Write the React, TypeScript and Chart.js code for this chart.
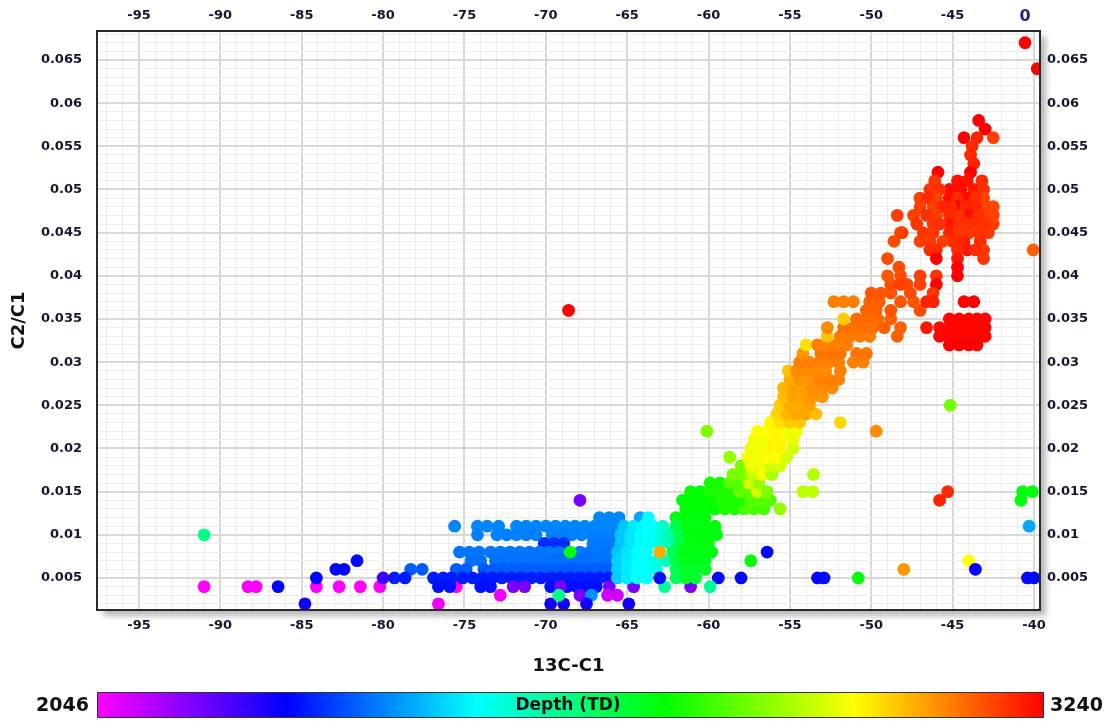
import React, { useEffect, useRef } from 'react';
import { Chart, registerables } from 'chart.js';

Chart.register(...registerables);

// ---------- axis ranges / ticks ----------
const X_MIN = -97.58;
const X_MAX = -39.63;
const Y_MIN = 0.00129;
const Y_MAX = 0.06836;
const xMajorTicks = [-95, -90, -85, -80, -75, -70, -65, -60, -55, -50, -45, -40];
const yMajorTicks = [0.005, 0.01, 0.015, 0.02, 0.025, 0.03, 0.035, 0.04, 0.045, 0.05, 0.055, 0.06, 0.065];
const DEPTH_MIN = 2046;
const DEPTH_MAX = 3240;
const xTitle = '13C-C1';
const yTitle = 'C2/C1';
const colorTitle = 'Depth (TD)';

// ---------- data: [C2/C1, depth, 13C-C1 values] ----------
type Seg = [number, number, number[]];

const leftOutliers: Seg[] = [
  [0.010, 2640, [-91.0]],
  [0.004, 2046, [-91.0, -88.3, -87.8, -84.1, -82.7, -81.4, -80.2, -75.5]],
  [0.004, 2285, [-86.45]],
  [0.005, 2285, [-84.1]],
  [0.006, 2290, [-82.9, -82.4]],
  [0.007, 2290, [-81.6]],
  [0.003, 2060, [-72.8]],
  [0.002, 2060, [-76.6]],
];

const blueCluster: Seg[] = [
  [0.012, 2410, [-66.7, -66.1, -65.5]],
  [0.011, 2410, [-75.6, -74.2, -73.6, -72.9, -71.8, -71.2, -70.6, -70.0, -69.4, -68.8, -68.2, -67.6, -67.0, -66.4, -65.8]],
  [0.010, 2405, [-74.2, -73.0, -72.4, -71.8, -71.2, -70.6, -69.6, -69.0, -68.4, -67.8, -67.2, -66.6, -66.0]],
  [0.009, 2325, [-70.1, -69.5, -68.9]],
  [0.009, 2400, [-67.1, -66.5, -65.9]],
  [0.008, 2395, [-75.3, -74.7, -74.1, -73.4, -72.8, -72.2, -71.6, -71.0, -70.4, -69.8, -69.2, -67.9, -67.3, -66.7, -66.1]],
  [0.007, 2390, [-74.6, -74.0, -73.1, -72.5, -71.9, -71.3, -70.7, -70.1, -69.5, -68.9, -68.3, -67.7, -67.1, -66.5, -65.9]],
  [0.006, 2370, [-78.3, -77.6, -75.5, -74.9, -73.8, -73.2, -72.6, -72.0, -71.4, -70.8, -70.2, -69.6, -69.0, -68.4, -67.8, -67.2, -66.6, -66.0]],
  [0.005, 2310, [-79.3, -78.65, -76.9, -76.3, -75.8, -75.1, -74.5, -73.9, -73.3, -72.7, -72.1, -71.5, -70.9, -70.3, -69.7, -69.1, -68.5, -67.9, -67.3, -66.7, -66.1]],
  [0.005, 2230, [-80.0]],
  [0.004, 2300, [-76.6, -75.9, -74.0, -73.4, -69.7, -68.7, -68.1, -67.5, -66.9]],
  [0.004, 2170, [-72.0, -71.3, -69.1, -66.1, -64.6, -61.1]],
  [0.003, 2170, [-67.9]],
  [0.003, 2420, [-67.2]],
  [0.003, 2090, [-66.2, -65.6]],
  [0.002, 2270, [-84.8, -69.7, -68.9, -67.5, -64.9]],
];

const cyanCluster: Seg[] = [
  [0.012, 2440, [-64.2]], [0.012, 2530, [-63.7]],
  [0.011, 2470, [-65.2]], [0.011, 2505, [-64.6]], [0.011, 2525, [-64.0, -63.4]], [0.011, 2570, [-62.8]],
  [0.010, 2470, [-65.4]], [0.010, 2500, [-64.8]], [0.010, 2525, [-64.2, -63.6]], [0.010, 2555, [-63.0]], [0.010, 2600, [-62.4]],
  [0.009, 2470, [-65.4]], [0.009, 2500, [-64.8]], [0.009, 2525, [-64.2, -63.6]], [0.009, 2555, [-63.0]], [0.009, 2600, [-62.4]],
  [0.008, 2470, [-65.6]], [0.008, 2500, [-65.0]], [0.008, 2525, [-64.4, -63.8]],
  [0.007, 2480, [-65.6]], [0.007, 2505, [-65.0]], [0.007, 2525, [-64.4, -63.8]], [0.007, 2550, [-63.2]], [0.007, 2590, [-62.6]],
  [0.006, 2480, [-65.6]], [0.006, 2505, [-65.0]], [0.006, 2525, [-64.4, -63.8]], [0.006, 2550, [-63.2]],
  [0.005, 2480, [-65.6]], [0.005, 2505, [-65.0]], [0.005, 2525, [-64.4, -63.8]],
];

const greenCluster: Seg[] = [
  [0.012, 2750, [-62.0, -61.4, -60.8, -60.2]],
  [0.011, 2690, [-62.0]], [0.011, 2750, [-61.4, -60.8, -60.2, -59.6]],
  [0.010, 2690, [-61.8]], [0.010, 2750, [-61.2, -60.6, -60.0, -59.5]],
  [0.009, 2700, [-61.8]], [0.009, 2750, [-61.2, -60.6, -60.0]],
  [0.008, 2680, [-62.2]], [0.008, 2745, [-61.6, -61.0, -60.4, -59.8]],
  [0.007, 2700, [-62.0]], [0.007, 2740, [-61.4, -60.8, -60.2]],
  [0.006, 2690, [-62.0]], [0.006, 2730, [-61.4, -60.8, -60.2]],
  [0.005, 2680, [-62.0]], [0.005, 2720, [-61.4, -60.8]],
];

const risingBand: Seg[] = [
  [0.013, 2760, [-61.4, -60.8, -60.2, -59.6]], [0.013, 2790, [-59.0, -58.4]], [0.013, 2830, [-57.8, -57.2, -56.6]],
  [0.014, 2760, [-61.6, -61.0, -60.4, -59.8]], [0.014, 2790, [-59.2, -58.6, -58.0]], [0.014, 2840, [-57.4, -56.8, -56.2]],
  [0.015, 2760, [-61.1, -60.5]], [0.015, 2790, [-59.9, -59.3, -58.7]], [0.015, 2850, [-58.1, -57.5]], [0.015, 2960, [-57.0]], [0.015, 2880, [-56.4]],
  [0.016, 2780, [-59.9, -59.3]], [0.016, 2840, [-58.7, -58.1]], [0.016, 2960, [-57.5]], [0.016, 2900, [-56.9]],
  [0.017, 2880, [-58.5, -57.9]], [0.017, 2950, [-57.3]], [0.017, 2990, [-56.7]], [0.017, 2920, [-56.1]],
  [0.018, 2870, [-58.0]], [0.018, 2990, [-57.4, -56.8]], [0.018, 2960, [-56.2, -55.6]],
  [0.019, 2900, [-58.7]], [0.019, 2990, [-57.6, -57.0]], [0.019, 3000, [-56.4, -55.8]], [0.019, 2960, [-55.2]],
  [0.020, 2990, [-57.4, -56.8]], [0.020, 3010, [-56.2, -55.6]], [0.020, 2960, [-54.8]],
  [0.021, 2990, [-57.2, -56.6]], [0.021, 3010, [-56.0, -55.4]], [0.021, 2980, [-54.8]],
  [0.022, 3000, [-57.0, -56.4]], [0.022, 3010, [-55.8]], [0.022, 2990, [-55.2, -54.6]],
  [0.023, 3010, [-56.2]], [0.023, 3030, [-55.6]], [0.023, 3050, [-55.0, -54.4]],
  [0.024, 3040, [-55.8]], [0.024, 3070, [-55.2]], [0.024, 3085, [-54.6, -54.0]], [0.024, 3060, [-53.4]],
  [0.025, 3050, [-55.6]], [0.025, 3080, [-55.0, -54.4]], [0.025, 3090, [-53.8]],
  [0.026, 3060, [-55.4]], [0.026, 3090, [-54.8, -54.2]], [0.026, 3100, [-53.6, -53.0]],
  [0.027, 3070, [-55.4]], [0.027, 3090, [-54.8, -54.2]], [0.027, 3110, [-53.6, -53.0, -52.4]],
  [0.028, 3080, [-55.0]], [0.028, 3100, [-54.4, -53.8]], [0.028, 3120, [-53.2, -52.6, -52.0]],
];

const orangeBand: Seg[] = [
  [0.029, 3060, [-55.1]], [0.029, 3110, [-54.6, -54.0, -53.4, -52.8]], [0.029, 3120, [-51.9]],
  [0.030, 3120, [-54.4, -53.8, -53.2, -52.6, -52.0, -51.1, -50.5]],
  [0.031, 3100, [-54.2]], [0.031, 3130, [-53.1, -52.5, -51.9, -50.9, -50.3]],
  [0.032, 3030, [-54.0]], [0.032, 3120, [-53.3, -52.7, -52.1, -51.5]],
  [0.033, 3060, [-52.7]], [0.033, 3125, [-51.9, -51.3, -50.7, -50.1]], [0.033, 3150, [-48.4]],
  [0.034, 3110, [-52.7]], [0.034, 3135, [-51.7, -51.1, -50.5, -49.9]], [0.034, 3150, [-49.2, -48.2]],
  [0.035, 3050, [-51.7]], [0.035, 3140, [-50.9, -50.3, -49.6]], [0.035, 3150, [-48.8]],
  [0.036, 3150, [-50.3, -49.7]], [0.036, 3160, [-48.8]], [0.036, 3170, [-47.0]],
  [0.037, 3120, [-52.3, -51.7, -51.1]], [0.037, 3150, [-50.1, -49.5]], [0.037, 3160, [-48.2, -47.4]], [0.037, 3170, [-46.2]],
  [0.038, 3160, [-50.0, -49.4, -48.8]], [0.038, 3170, [-47.6]],
  [0.039, 3170, [-48.8, -47.8]], [0.039, 3180, [-47.0]],
  [0.040, 3160, [-49.0]], [0.040, 3170, [-48.2]], [0.040, 3180, [-47.0]],
  [0.041, 3170, [-48.3]],
  [0.042, 3170, [-49.0]],
  [0.044, 3170, [-48.6]], [0.044, 3180, [-47.0]],
  [0.045, 3180, [-48.1]],
  [0.047, 3180, [-48.4, -47.4]],
];

const redTop: Seg[] = [
  [0.058, 3240, [-43.4]],
  [0.057, 3240, [-43.0]],
  [0.056, 3240, [-44.3]], [0.056, 3205, [-43.5]], [0.056, 3180, [-42.5]],
  [0.055, 3200, [-43.8]],
  [0.054, 3200, [-43.9]],
  [0.053, 3210, [-43.7]],
  [0.052, 3240, [-45.9, -43.9]],
  [0.051, 3190, [-46.1]], [0.051, 3225, [-44.7, -44.1]], [0.051, 3200, [-43.2]],
  [0.050, 3190, [-46.4]], [0.050, 3230, [-45.2, -44.5]], [0.050, 3215, [-43.7]], [0.050, 3195, [-45.8, -43.1]],
  [0.049, 3180, [-47.0, -46.0]], [0.049, 3230, [-45.2, -44.1]], [0.049, 3180, [-43.1]], [0.049, 3200, [-46.5, -44.7, -43.6]],
  [0.048, 3180, [-47.0, -46.2]], [0.048, 3240, [-44.7]], [0.048, 3175, [-42.9, -42.5]], [0.048, 3205, [-45.6, -45.1, -44.2, -43.6]],
  [0.047, 3180, [-46.0]], [0.047, 3200, [-45.2]], [0.047, 3230, [-44.0]], [0.047, 3180, [-42.9, -42.5]], [0.047, 3195, [-46.6, -44.6, -43.4]],
  [0.046, 3190, [-47.2, -46.2]], [0.046, 3220, [-45.2]], [0.046, 3200, [-43.5]], [0.046, 3180, [-42.5]], [0.046, 3195, [-45.8, -44.6, -44.0, -43.0]],
  [0.045, 3180, [-48.2]], [0.045, 3210, [-45.2]], [0.045, 3190, [-46.8, -46.2, -44.6, -44.0, -43.4, -42.8]],
  [0.044, 3200, [-45.0]], [0.044, 3210, [-44.3]], [0.044, 3200, [-43.3]], [0.044, 3185, [-46.4, -45.6]],
  [0.043, 3200, [-46.4, -46.0]], [0.043, 3220, [-44.1]], [0.043, 3190, [-43.1]], [0.043, 3200, [-44.7, -43.6]],
  [0.042, 3240, [-46.0]], [0.042, 3220, [-44.7]], [0.042, 3190, [-43.1]],
  [0.041, 3240, [-44.7]],
  [0.040, 3190, [-46.0]], [0.040, 3240, [-44.7]],
  [0.039, 3240, [-46.0]], [0.039, 3180, [-48.2]],
  [0.038, 3190, [-46.2]],
  [0.037, 3210, [-46.6, -46.2]], [0.037, 3240, [-44.3, -43.7]],
  [0.035, 3235, [-45.2, -44.6, -44.0, -43.5, -43.0]],
  [0.034, 3220, [-46.6]], [0.034, 3230, [-45.8]], [0.034, 3235, [-45.2, -44.6, -44.0, -43.5, -43.0]],
  [0.033, 3235, [-45.8, -45.2, -44.6, -44.0, -43.5, -43.0]],
  [0.032, 3240, [-45.2, -44.6, -44.0, -43.5]],
];

// scattered single samples: [13C-C1, C2/C1, depth]
const scatteredPoints: [number, number, number][] = [
  [-40.55, 0.067, 3240], [-39.8, 0.064, 3240], [-40.05, 0.043, 3150], [-45.15, 0.025, 2870],
  [-45.3, 0.015, 3200], [-45.8, 0.014, 3210], [-40.7, 0.015, 2750], [-40.1, 0.015, 2750],
  [-40.8, 0.014, 2750], [-40.3, 0.011, 2440], [-44.0, 0.007, 3000], [-43.6, 0.006, 2280],
  [-40.4, 0.005, 2290], [-40.0, 0.005, 2290], [-48.0, 0.006, 3100], [-50.8, 0.005, 2750],
  [-53.3, 0.005, 2290], [-52.9, 0.005, 2290], [-56.4, 0.008, 2290], [-57.4, 0.007, 2760],
  [-58.0, 0.005, 2290], [-59.4, 0.005, 2290], [-60.1, 0.022, 2880], [-68.6, 0.036, 3240],
  [-67.9, 0.014, 2170], [-59.9, 0.004, 2620], [-62.7, 0.004, 2620], [-63.0, 0.008, 3080],
  [-68.5, 0.008, 2750], [-63.0, 0.005, 2300], [-69.2, 0.003, 2640], [-55.6, 0.013, 2900],
  [-53.55, 0.017, 2930], [-54.2, 0.015, 2940], [-53.6, 0.015, 2940], [-51.9, 0.023, 3040],
  [-49.7, 0.022, 3110],
];

// ---------- colour map ----------
const colorStops: [number, [number, number, number]][] = [
  [0, [255, 0, 255]],
  [0.2, [0, 0, 255]],
  [0.4, [0, 255, 255]],
  [0.6, [0, 255, 0]],
  [0.8, [255, 255, 0]],
  [1, [255, 0, 0]],
];

function depthColor(d: number): string {
  let t = (d - DEPTH_MIN) / (DEPTH_MAX - DEPTH_MIN);
  t = Math.max(0, Math.min(1, t));
  for (let i = 0; i < colorStops.length - 1; i++) {
    const [t0, c0] = colorStops[i];
    const [t1, c1] = colorStops[i + 1];
    if (t <= t1) {
      const f = (t - t0) / (t1 - t0);
      const c = c0.map((v, k) => Math.round(v + (c1[k] - v) * f));
      return `rgb(${c[0]},${c[1]},${c[2]})`;
    }
  }
  return 'rgb(255,0,0)';
}

const allSegs: Seg[] = [
  ...leftOutliers,
  ...blueCluster,
  ...cyanCluster,
  ...greenCluster,
  ...risingBand,
  ...orangeBand,
  ...redTop,
];

const points: { x: number; y: number; d: number }[] = [
  ...allSegs.flatMap(([y, d, xs]) => xs.map((x) => ({ x, y, d }))),
  ...scatteredPoints.map(([x, y, d]) => ({ x, y, d })),
];

// ---------- helpers ----------
const FONT = "'DejaVu Sans', Verdana, sans-serif";
const TICK_COLOR = '#15152e';

const xTickValues: number[] = [];
for (let v = -97; v <= -40; v++) xTickValues.push(v);
const yTickValues: number[] = [];
for (let k = 2; k <= 68; k++) yTickValues.push(k / 1000);

const isMajorX = (v: number) => xMajorTicks.some((m) => Math.abs(m - v) < 1e-6);
const isMajorY = (v: number) => yMajorTicks.some((m) => Math.abs(m - v) < 1e-7);
const fmtY = (v: number) => String(Number(v.toFixed(3)));

const decorPlugin = {
  id: 'decor',
  beforeDraw(chart: any) {
    const { ctx, chartArea: a } = chart;
    ctx.save();
    ctx.fillStyle = '#ffffff';
    ctx.fillRect(0, 0, chart.width, chart.height);
    ctx.shadowColor = 'rgba(0,0,0,0.28)';
    ctx.shadowBlur = 6;
    ctx.shadowOffsetX = 6;
    ctx.shadowOffsetY = 6;
    ctx.fillRect(a.left, a.top, a.right - a.left, a.bottom - a.top);
    ctx.restore();
  },
  afterDatasetsDraw(chart: any) {
    const { ctx, chartArea: a } = chart;
    ctx.save();
    ctx.strokeStyle = '#2a2a2a';
    ctx.lineWidth = 2;
    ctx.strokeRect(a.left, a.top, a.right - a.left, a.bottom - a.top);
    ctx.restore();
  },
  afterDraw(chart: any) {
    const { ctx } = chart;
    ctx.save();
    // colour bar
    const bx = 97, by = 692, bw = 947, bh = 26;
    const g = ctx.createLinearGradient(bx, 0, bx + bw, 0);
    colorStops.forEach(([t, c]) => g.addColorStop(t, `rgb(${c[0]},${c[1]},${c[2]})`));
    ctx.fillStyle = g;
    ctx.fillRect(bx, by, bw, bh);
    ctx.strokeStyle = '#333';
    ctx.lineWidth = 1;
    ctx.strokeRect(bx + 0.5, by + 0.5, bw - 1, bh - 1);
    ctx.fillStyle = '#111';
    ctx.textBaseline = 'middle';
    ctx.font = `bold 17px ${FONT}`;
    ctx.textAlign = 'center';
    ctx.fillText(colorTitle, 568, by + bh / 2 + 1);
    ctx.font = `bold 19px ${FONT}`;
    ctx.textAlign = 'right';
    ctx.fillText(String(DEPTH_MIN), 89, by + bh / 2 + 1);
    ctx.textAlign = 'left';
    ctx.fillText(String(DEPTH_MAX), 1050, by + bh / 2 + 1);
    // top-right marker
    ctx.fillStyle = '#24248a';
    ctx.font = `bold 16px ${FONT}`;
    ctx.textAlign = 'center';
    ctx.fillText('0', 1025, 17);
    ctx.restore();
  },
};

export default function App() {
  const ref = useRef<HTMLCanvasElement>(null);

  useEffect(() => {
    document.body.style.margin = '0';
    const tickFont = { family: FONT, size: 13, weight: 'bold' as const };
    const titleFont = { family: FONT, size: 18, weight: 'bold' as const };
    const gridX = {
      drawTicks: false,
      color: (c: any) => (c.tick && isMajorX(c.tick.value) ? '#d8d8d8' : '#ececec'),
      lineWidth: (c: any) => (c.tick && isMajorX(c.tick.value) ? 2 : 1),
    };
    const gridY = {
      drawTicks: false,
      color: (c: any) => (c.tick && isMajorY(c.tick.value) ? '#d8d8d8' : '#ececec'),
      lineWidth: (c: any) => (c.tick && isMajorY(c.tick.value) ? 2 : 1),
    };
    const chart = new Chart(ref.current as HTMLCanvasElement, {
      type: 'scatter',
      data: {
        datasets: [
          {
            data: points.map((p) => ({ x: p.x, y: p.y })),
            pointBackgroundColor: points.map((p) => depthColor(p.d)),
            pointBorderWidth: 0,
            pointRadius: 6.4,
            pointHoverRadius: 6.4,
            clip: 0,
          } as any,
        ],
      },
      plugins: [decorPlugin],
      options: {
        animation: false,
        responsive: false,
        devicePixelRatio: 1,
        events: [],
        layout: { padding: { left: 0, right: 0, top: 0, bottom: 40 } },
        plugins: { legend: { display: false }, tooltip: { enabled: false } },
        scales: {
          x: {
            type: 'linear',
            position: 'bottom',
            min: X_MIN,
            max: X_MAX,
            afterBuildTicks: (s: any) => { s.ticks = xTickValues.map((v) => ({ value: v })); },
            afterFit: (s: any) => { s.height = 71; },
            ticks: {
              autoSkip: false, maxRotation: 0, padding: 8, color: TICK_COLOR, font: tickFont,
              callback: (v: any) => (isMajorX(Number(v)) ? String(v) : ''),
            },
            grid: gridX,
            border: { display: false },
            title: { display: true, text: xTitle, font: titleFont, color: '#111', padding: { top: 0, bottom: 4 } },
          },
          x2: {
            type: 'linear',
            axis: 'x',
            position: 'top',
            min: X_MIN,
            max: X_MAX,
            afterBuildTicks: (s: any) => { s.ticks = xTickValues.map((v) => ({ value: v })); },
            afterFit: (s: any) => { s.height = 31; },
            ticks: {
              autoSkip: false, maxRotation: 0, padding: 8, color: TICK_COLOR, font: tickFont,
              callback: (v: any) => (isMajorX(Number(v)) && Number(v) !== -40 ? String(v) : ''),
            },
            grid: { display: false, drawTicks: false },
            border: { display: false },
          },
          y: {
            type: 'linear',
            position: 'left',
            min: Y_MIN,
            max: Y_MAX,
            afterBuildTicks: (s: any) => { s.ticks = yTickValues.map((v) => ({ value: v })); },
            afterFit: (s: any) => { s.width = 97; },
            ticks: {
              autoSkip: false, padding: 15, color: TICK_COLOR, font: tickFont,
              callback: (v: any) => (isMajorY(Number(v)) ? fmtY(Number(v)) : ''),
            },
            grid: gridY,
            border: { display: false },
            title: { display: true, text: yTitle, font: titleFont, color: '#111', padding: { top: 9, bottom: 0 } },
          },
          y2: {
            type: 'linear',
            axis: 'y',
            position: 'right',
            min: Y_MIN,
            max: Y_MAX,
            afterBuildTicks: (s: any) => { s.ticks = yTickValues.map((v) => ({ value: v })); },
            afterFit: (s: any) => { s.width = 74; },
            ticks: {
              autoSkip: false, padding: 7, color: TICK_COLOR, font: tickFont,
              callback: (v: any) => (isMajorY(Number(v)) ? fmtY(Number(v)) : ''),
            },
            grid: { display: false, drawTicks: false },
            border: { display: false },
          },
        },
      } as any,
    });
    return () => chart.destroy();
  }, []);

  return (
    <div style={{ width: 1114, height: 721 }}>
      <canvas ref={ref} width={1114} height={721} style={{ display: 'block' }} />
    </div>
  );
}
